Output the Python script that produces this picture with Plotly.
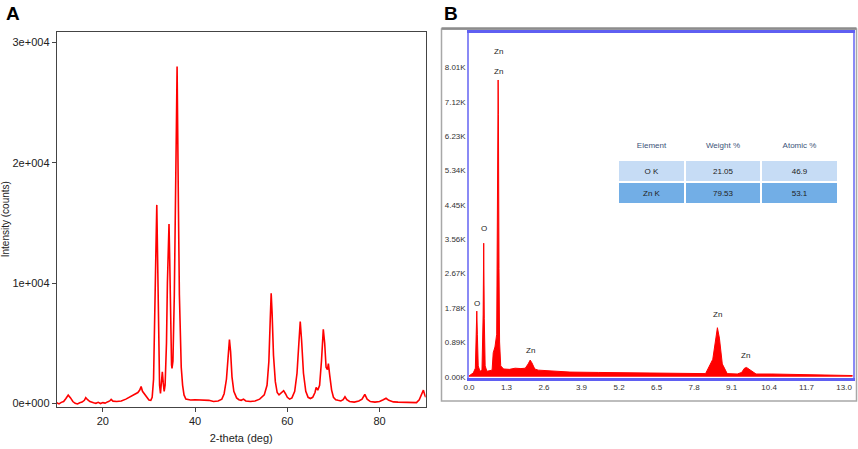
import plotly.graph_objects as go

# ---- Panel A: XRD pattern ----
two_theta = [10.0, 10.5, 11.0, 11.5, 12.0, 12.5, 13.0, 13.5, 14.0, 14.5, 15.0, 15.5, 16.0, 16.3, 16.7,
             17.2, 18.0, 18.5, 19.0, 19.5, 20.0, 20.5, 21.0, 21.5, 21.8, 22.2, 23.0, 24.0, 25.0, 26.0,
             27.0, 27.6, 28.0, 28.3, 28.6, 29.0, 29.5, 30.0, 30.4, 30.7, 31.0, 31.3, 31.5, 31.7, 31.9,
             32.1, 32.3, 32.5, 32.7, 32.9, 33.1, 33.3, 33.5, 33.8, 34.0, 34.2, 34.35, 34.5, 34.7, 34.9,
             35.0, 35.2, 35.5, 35.8, 35.95, 36.1, 36.25, 36.4, 36.6, 36.8, 37.0, 37.3, 37.6, 38.0, 39.0,
             40.0, 41.0, 42.0, 43.0, 44.0, 45.0, 45.8, 46.3, 46.8, 47.2, 47.45, 47.7, 48.0, 48.4, 49.0,
             49.5, 50.0, 50.5, 51.0, 52.0, 53.0, 54.0, 55.0, 55.6, 56.0, 56.3, 56.5, 56.7, 57.0, 57.4,
             57.8, 58.2, 58.7, 59.2, 59.6, 60.0, 60.5, 61.0, 61.6, 62.1, 62.5, 62.8, 63.1, 63.5, 64.0,
             64.5, 65.0, 65.5, 66.0, 66.25, 66.6, 67.0, 67.4, 67.8, 68.1, 68.4, 68.7, 68.9, 69.2, 69.6,
             70.0, 70.5, 71.0, 71.6, 72.1, 72.5, 72.9, 73.5, 74.5, 75.5, 76.2, 76.8, 77.3, 78.0, 79.0,
             80.0, 80.8, 81.4, 82.0, 83.0, 84.0, 85.0, 86.0, 87.0, 88.0, 88.6, 89.1, 89.5, 89.8, 90.0]
xrd_counts = [50, -50, 80, 150, 400, 680, 450, 150, 0, -50, 50, 100, 250, 470, 300,
              150, 50, 0, 80, -20, 60, 20, 120, 200, 330, 180, 150, 200, 350, 580,
              800, 900, 1100, 1400, 1000, 800, 500, 280, 250, 500, 2000, 7000, 12500, 16500, 11000,
              4000, 1500, 830, 1500, 2630, 1700, 1000, 1500, 5000, 10000, 14500, 14900, 12000, 6000, 3200,
              2900, 3500, 9000, 22600, 23000, 28000, 24000, 16000, 9000, 5000, 3000, 1500, 700, 350, 280,
              300, 280, 260, 250, 150, 200, 350, 800, 2000, 4200, 5300, 4300, 2200, 1000, 450,
              300, 250, 350, 200, 150, 200, 350, 700, 1500, 3500, 7000, 9150, 7500, 4000, 1800,
              900, 700, 900, 1050, 800, 500, 350, 450, 1000, 2500, 5000, 6800, 5200, 2500, 1000,
              500, 400, 500, 900, 1330, 1100, 1500, 3500, 6150, 5000, 3000, 2800, 3300, 2300, 1100,
              500, 300, 250, 200, 300, 550, 300, 150, 100, 200, 350, 750, 350, 150, 100,
              150, 300, 420, 250, 120, 100, 80, 60, 30, 60, 300, 700, 1100, 700, 500]
xrd_xticks = [20, 40, 60, 80]
xrd_yticks = [0, 10000, 20000, 30000]
xrd_yticklabels = ["0e+000", "1e+004", "2e+004", "3e+004"]

# ---- Panel B: EDS spectrum (counts in K) ----
energy_kev = [0.0, 0.05, 0.15, 0.22, 0.25, 0.27, 0.29, 0.32, 0.38, 0.45, 0.49, 0.51, 0.53, 0.56, 0.62,
              0.72, 0.80, 0.84, 0.90, 0.96, 0.99, 1.00, 1.01, 1.02, 1.04, 1.06, 1.10, 1.2, 1.4, 1.6,
              1.8, 1.95, 2.05, 2.12, 2.18, 2.28, 2.4, 2.8, 3.5, 4.5, 5.5, 6.5, 7.5, 8.2, 8.45,
              8.55, 8.61, 8.68, 8.78, 8.95, 9.3, 9.45, 9.55, 9.62, 9.75, 9.95, 10.5, 11.5, 12.5, 13.3]
eds_counts_k = [0.02, 0.05, 0.10, 0.22, 1.1, 1.70, 1.1, 0.28, 0.14, 0.17, 1.6, 3.46, 1.5, 0.28, 0.14,
                0.16, 0.17, 0.62, 0.77, 1.1, 3.9, 6.8, 7.69, 6.8, 2.8, 0.9, 0.28, 0.20, 0.19, 0.22,
                0.21, 0.22, 0.33, 0.43, 0.36, 0.20, 0.17, 0.15, 0.12, 0.11, 0.10, 0.09, 0.08, 0.08, 0.45,
                1.00, 1.27, 1.00, 0.33, 0.08, 0.07, 0.11, 0.22, 0.24, 0.17, 0.07, 0.07, 0.06, 0.05, 0.03]
eds_xticks = [0.0, 1.3, 2.6, 3.9, 5.2, 6.5, 7.8, 9.1, 10.4, 11.7, 13.0]
eds_xticklabels = ["0.0", "1.3", "2.6", "3.9", "5.2", "6.5", "7.8", "9.1", "10.4", "11.7", "13.0"]
eds_yticks = [0.0, 0.89, 1.78, 2.67, 3.56, 4.45, 5.34, 6.23, 7.12, 8.01]
eds_yticklabels = ["0.00K", "0.89K", "1.78K", "2.67K", "3.56K", "4.45K", "5.34K", "6.23K", "7.12K", "8.01K"]

peak_labels = ["O", "O", "Zn", "Zn", "Zn", "Zn", "Zn"]
peak_energy = [0.27, 0.52, 1.01, 1.01, 2.13, 8.62, 9.57]
peak_label_k = [1.91, 3.83, 7.90, 8.42, 0.69, 1.62, 0.56]

table_element = ["O K", "Zn K"]
table_weight = ["21.05", "79.53"]
table_atomic = ["46.9", "53.1"]

W, H = 858, 449


def px_x(v):
    return v / W


def px_y(v):
    return (H - v) / H


fig = go.Figure()

fig.add_trace(go.Scatter(x=two_theta, y=xrd_counts, mode="lines",
                         line=dict(color="#ff0000", width=1.6),
                         xaxis="x", yaxis="y", showlegend=False))

fig.add_trace(go.Scatter(x=energy_kev, y=eds_counts_k, mode="lines", fill="tozeroy",
                         fillcolor="#ff0000", line=dict(color="#ff0000", width=1),
                         xaxis="x2", yaxis="y2", showlegend=False))

fig.add_trace(go.Table(
    domain=dict(x=[px_x(618), px_x(838.5)], y=[px_y(210), px_y(134)]),
    columnwidth=[67, 76, 77],
    header=dict(values=["Element", "Weight %", "Atomic %"],
                fill_color="white", line=dict(color="white", width=1),
                font=dict(family="Liberation Sans", size=8, color="#3c5378"),
                height=26, align="center"),
    cells=dict(values=[table_element, table_weight, table_atomic],
               fill_color=[["#c6dcf5", "#72aee6"]] * 3,
               line=dict(color="white", width=1.5),
               font=dict(family="Liberation Sans", size=8, color="#222222"),
               height=22, align="center"),
))

# peak markers in panel B
for lab, e, k in zip(peak_labels, peak_energy, peak_label_k):
    fig.add_annotation(x=e, y=k, xref="x2", yref="y2", text=lab, showarrow=False,
                       font=dict(family="Liberation Sans Narrow, Liberation Sans", size=8, color="#222222"))

# panel letters
fig.add_annotation(x=px_x(13), y=px_y(13), xref="paper", yref="paper", text="<b>A</b>",
                   xanchor="center", yanchor="middle",
                   showarrow=False, font=dict(family="Liberation Sans", size=19, color="black"))
fig.add_annotation(x=px_x(451), y=px_y(13), xref="paper", yref="paper", text="<b>B</b>",
                   xanchor="center", yanchor="middle",
                   showarrow=False, font=dict(family="Liberation Sans", size=19, color="black"))

# outer grey frame of panel B
fig.add_shape(type="rect", xref="paper", yref="paper",
              x0=px_x(441.5), x1=px_x(856.5), y0=px_y(401), y1=px_y(29),
              line=dict(color="#a8a8a8", width=1.5), layer="below")
fig.add_shape(type="line", xref="paper", yref="paper",
              x0=px_x(441.5), x1=px_x(856.5), y0=px_y(28.5), y1=px_y(28.5),
              line=dict(color="#8c8c8c", width=2.5))

tick_font = dict(family="Liberation Sans Narrow, Liberation Sans", size=11, color="#222222")
eds_font = dict(family="Liberation Sans Narrow, Liberation Sans", size=8, color="#333333")

fig.update_layout(
    template="none",
    width=W, height=H,
    margin=dict(l=0, r=0, t=0, b=0),
    paper_bgcolor="white", plot_bgcolor="white",
    xaxis=dict(domain=[px_x(56.7), px_x(425.7)], range=[10, 90], anchor="y", automargin=False,
               tickvals=xrd_xticks, ticks="outside", ticklen=4, tickcolor="#444",
               showline=True, mirror=True, linecolor="#444444", linewidth=1,
               showgrid=False, zeroline=False, tickfont=tick_font,
               title=dict(text="2-theta (deg)", standoff=8,
                          font=dict(family="Liberation Sans Narrow, Liberation Sans", size=11, color="#222"))),
    yaxis=dict(domain=[px_y(406.7), px_y(31.7)], range=[-280, 30900], anchor="x", automargin=False,
               tickvals=xrd_yticks, ticktext=xrd_yticklabels, ticks="outside", ticklen=4,
               tickcolor="#444", showline=True, mirror=True, linecolor="#444444", linewidth=1,
               showgrid=False, zeroline=False, tickfont=tick_font,
               title=dict(text="Intensity (counts)", standoff=4,
                          font=dict(family="Liberation Sans", size=10, color="#222"))),
    xaxis2=dict(domain=[px_x(469), px_x(852.7)], range=[0, 13.3], anchor="y2", automargin=False,
                tickvals=eds_xticks, ticktext=eds_xticklabels, ticks="",
                showline=True, mirror=True, linecolor="#5f5ff2", linewidth=3,
                showgrid=False, zeroline=False, tickfont=eds_font),
    yaxis2=dict(domain=[px_y(377.7), px_y(33.3)], range=[-0.026, 8.90], anchor="x2", automargin=False,
                tickvals=eds_yticks, ticktext=eds_yticklabels, ticks="",
                showline=True, mirror=True, linecolor="#8a8af5", linewidth=1.5,
                showgrid=False, zeroline=False, tickfont=eds_font),
)

# page body has a default margin; remove it so the figure sits at the window origin
fig.write_html("out.html", config={"displayModeBar": False},
               post_script="document.body.style.margin='0px';")
